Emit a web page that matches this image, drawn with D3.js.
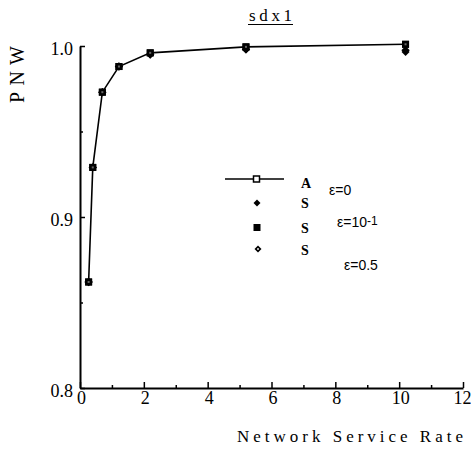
<!DOCTYPE html>
<html>
<head>
<meta charset="utf-8">
<script src="https://cdn.jsdelivr.net/npm/d3@7"></script>
<style>
  html, body { margin: 0; padding: 0; background: #fff; }
  svg { display: block; }
</style>
</head>
<body>
<svg id="chart" width="471" height="450"></svg>
<script>
// Network service rate (x) and PNW for each run
const rates = [0.27, 0.4, 0.7, 1.22, 2.2, 5.2, 10.2];
const pnwA = [0.862, 0.929, 0.973, 0.988, 0.996, 0.9995, 1.001];
const pnwS1 = [0.862, 0.929, 0.973, 0.988, 0.995, 0.998, 0.9975];
const pnwS2 = [0.862, 0.929, 0.973, 0.988, 0.996, 0.9995, 1.001];
const pnwS3 = [0.862, 0.929, 0.973, 0.988, 0.995, 0.998, 0.9965];

const xMajor = [0, 2, 4, 6, 8, 10, 12];
const xMinor = [1, 3, 5, 7, 9, 11];
const yMajor = [0.8, 0.9, 1.0];
const yMinor = [0.85, 0.95];

const svg = d3.select("#chart");
const serif = "'Liberation Serif', 'DejaVu Serif', serif";
const sans = "'Liberation Sans', Arial, sans-serif";

const x = d3.scaleLinear().domain([0, 12]).range([80, 463]);
const y = d3.scaleLinear().domain([0.8, 1.0]).range([388, 46]);

function styleAxis(g) {
  g.attr("font-family", serif).attr("font-size", 18);
  g.select(".domain").attr("stroke", "#000").attr("stroke-width", 2);
  g.selectAll(".tick line").attr("stroke", "#000").attr("stroke-width", 1.5);
  g.selectAll(".tick text").attr("fill", "#000")
    .style("font-family", serif).style("font-size", "18px");
}

// x axis, ticks pointing into the plot
svg.append("g")
  .attr("transform", `translate(0,${y(0.8)})`)
  .call(d3.axisBottom(x).tickValues(xMajor).tickFormat(d3.format("d"))
    .tickSizeInner(-6).tickSizeOuter(0).tickPadding(3))
  .call(styleAxis)
  .call(g => g.selectAll(".tick text").attr("dy", "0.72em").attr("dx", 1))
  .call(g => g.selectAll(".tick text").filter(d => d === 12)
    .attr("text-anchor", "end").attr("dx", 8));
svg.append("g")
  .attr("transform", `translate(0,${y(0.8)})`)
  .call(d3.axisBottom(x).tickValues(xMinor).tickFormat("")
    .tickSizeInner(-3).tickSizeOuter(0))
  .call(g => g.select(".domain").remove())
  .call(styleAxis);

// y axis
svg.append("g")
  .attr("transform", `translate(${x(0)},0)`)
  .call(d3.axisLeft(y).tickValues(yMajor).tickFormat(d3.format(".1f"))
    .tickSizeInner(-5).tickSizeOuter(0).tickPadding(7))
  .call(styleAxis)
  .call(g => g.selectAll(".tick text").attr("dy", "0.45em"));
svg.append("g")
  .attr("transform", `translate(${x(0)},0)`)
  .call(d3.axisLeft(y).tickValues(yMinor).tickFormat("")
    .tickSizeInner(-3).tickSizeOuter(0))
  .call(g => g.select(".domain").remove())
  .call(styleAxis);

// Title, underlined
svg.append("text")
  .attr("x", 249).attr("y", 21)
  .attr("textLength", 43).attr("lengthAdjust", "spacing")
  .style("font-family", serif).style("font-size", "17px")
  .text("sdx1");
svg.append("line")
  .attr("x1", 248).attr("x2", 293).attr("y1", 24.5).attr("y2", 24.5)
  .attr("stroke", "#000").attr("stroke-width", 1);

// Axis titles
svg.append("text")
  .attr("transform", "translate(24,103) rotate(-90)")
  .attr("textLength", 57).attr("lengthAdjust", "spacing")
  .style("font-family", serif).style("font-size", "20px")
  .text("PNW");

svg.append("text")
  .attr("x", 237).attr("y", 442)
  .attr("textLength", 226).attr("lengthAdjust", "spacing")
  .style("font-family", serif).style("font-size", "17px")
  .text("Network  Service  Rate");

// Marker shapes
function diamondPath(r) {
  return `M0,${-r}L${r},0L0,${r}L${-r},0Z`;
}

function drawDiamonds(vals, r) {
  svg.append("g").selectAll("path")
    .data(rates.map((v, i) => [v, vals[i]]))
    .join("path")
    .attr("transform", d => `translate(${x(d[0])},${y(d[1])})`)
    .attr("d", diamondPath(r))
    .attr("fill", "#000");
}

function drawSquares(vals, s) {
  svg.append("g").selectAll("rect")
    .data(rates.map((v, i) => [v, vals[i]]))
    .join("rect")
    .attr("x", d => x(d[0]) - s / 2).attr("y", d => y(d[1]) - s / 2)
    .attr("width", s).attr("height", s)
    .attr("fill", "#000");
}

// S series markers (no connecting line)
drawDiamonds(pnwS3, 4);
drawDiamonds(pnwS1, 4.2);
drawSquares(pnwS2, 7);

// A series: line with open squares
const line = d3.line().x((d, i) => x(rates[i])).y(d => y(d));
svg.append("path")
  .datum(pnwA)
  .attr("d", line)
  .attr("fill", "none").attr("stroke", "#000").attr("stroke-width", 1.6);
drawSquares(pnwA, 7);
svg.append("g").selectAll("rect")
  .data(pnwA)
  .join("rect")
  .attr("x", (d, i) => x(rates[i]) - 1).attr("y", d => y(d) - 1)
  .attr("width", 2).attr("height", 2).attr("fill", "#666");

// Legend
const lg = svg.append("g");
lg.append("line").attr("x1", 225).attr("x2", 284).attr("y1", 179).attr("y2", 179)
  .attr("stroke", "#000").attr("stroke-width", 1.6);
lg.append("rect").attr("x", 253.5).attr("y", 176).attr("width", 6).attr("height", 6)
  .attr("fill", "#fff").attr("stroke", "#000").attr("stroke-width", 1.5);
lg.append("path").attr("transform", "translate(257,203)")
  .attr("d", diamondPath(3.5)).attr("fill", "#000");
lg.append("rect").attr("x", 253.5).attr("y", 224).attr("width", 7).attr("height", 7)
  .attr("fill", "#000");
lg.append("path").attr("transform", "translate(258,249)")
  .attr("d", diamondPath(3.5)).attr("fill", "#000");
lg.append("circle").attr("cx", 258).attr("cy", 249).attr("r", 0.9).attr("fill", "#fff");

const lgLetters = [["A", 188], ["S", 208], ["S", 233], ["S", 255]];
lg.selectAll("text.k").data(lgLetters).join("text")
  .attr("class", "k")
  .attr("x", 301).attr("y", d => d[1])
  .style("font-family", serif).style("font-size", "14px").style("font-weight", "bold")
  .text(d => d[0]);

lg.append("text").attr("x", 329).attr("y", 195)
  .style("font-family", sans).style("font-size", "14px").text("ε=0");
const e2 = lg.append("text").attr("x", 337).attr("y", 227)
  .style("font-family", sans).style("font-size", "14px");
e2.append("tspan").text("ε=10");
e2.append("tspan").attr("dy", -2).style("font-size", "12px").text("-1");
lg.append("text").attr("x", 344).attr("y", 270)
  .style("font-family", sans).style("font-size", "14px").text("ε=0.5");
</script>
</body>
</html>
